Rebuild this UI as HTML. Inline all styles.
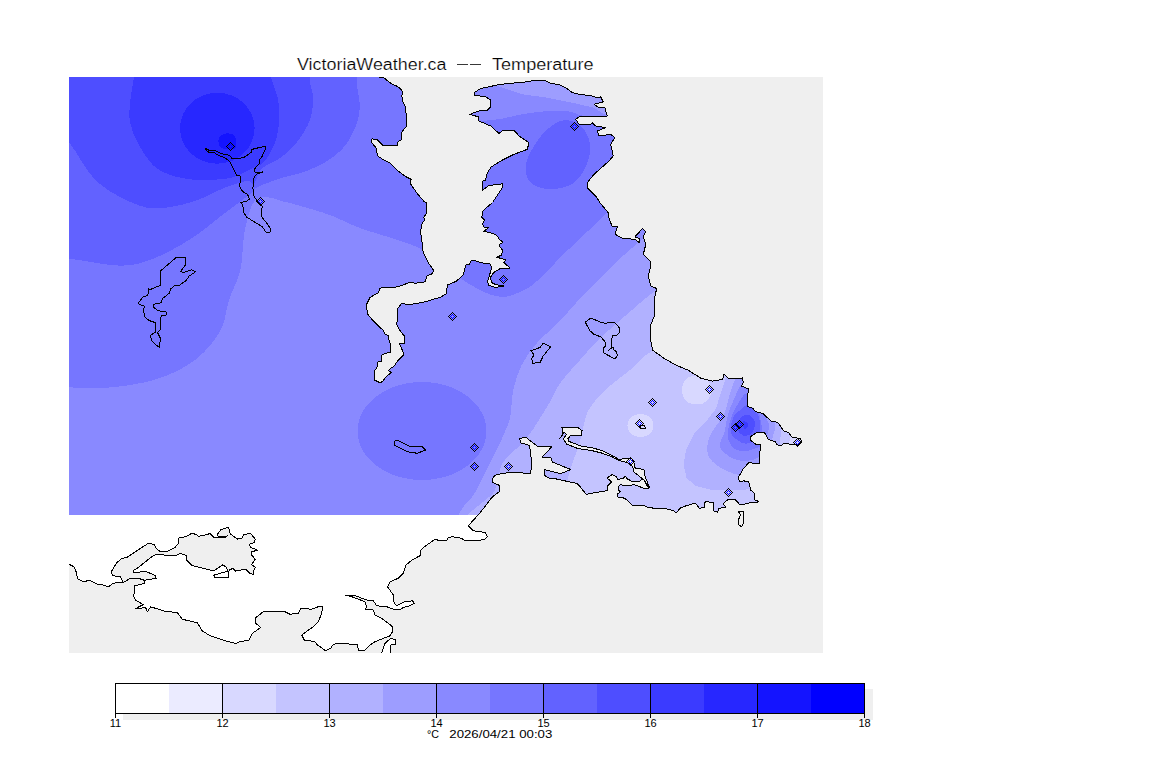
<!DOCTYPE html>
<html><head><meta charset="utf-8"><style>
html,body{margin:0;padding:0;background:#fff;}
body{width:1152px;height:768px;overflow:hidden;}
svg{display:block;}
text{font-family:"Liberation Sans",sans-serif;fill:#000;}
</style></head><body>
<svg width="1152" height="768" viewBox="0 0 1152 768" shape-rendering="crispEdges">
<defs>

<clipPath id="land"><path d="M69.0,77.0 L379.4,77.0 L383.1,77.0 L387.5,80.8 L392.5,84.5 L396.2,85.8 L399.4,87.6 L402.5,91.4 L401.9,95.8 L402.5,100.8 L405.0,105.8 L406.2,114.5 L406.9,125.8 L403.8,129.5 L401.2,133.2 L401.9,139.5 L398.1,141.4 L397.5,145.1 L382.5,145.1 L376.9,139.5 L371.9,138.9 L371.9,142.6 L376.2,148.2 L377.5,155.8 L383.1,159.5 L390.0,163.1 L397.5,170.6 L405.0,176.2 L411.2,179.4 L410.0,183.1 L417.5,193.8 L423.8,201.2 L426.2,202.5 L426.2,213.8 L423.8,217.5 L425.0,220.0 L422.5,222.5 L421.2,227.5 L420.6,232.5 L422.5,245.0 L422.5,250.0 L425.0,256.2 L428.1,262.5 L433.8,270.6 L431.9,273.8 L426.9,276.2 L425.0,281.9 L416.2,283.1 L408.8,282.8 L397.5,286.9 L379.4,288.1 L378.8,292.5 L370.0,297.5 L366.2,305.0 L367.5,313.8 L372.5,320.0 L377.5,325.0 L382.8,330.0 L385.3,334.2 L388.2,335.8 L388.2,338.3 L390.3,343.3 L390.3,352.1 L382.0,354.6 L381.6,361.2 L377.4,362.1 L377.0,367.5 L374.5,370.8 L374.5,380.0 L379.5,382.5 L382.8,381.7 L385.3,377.5 L391.2,372.5 L388.7,370.8 L389.5,369.2 L394.5,365.8 L397.0,361.7 L404.1,354.2 L399.5,343.8 L404.5,343.3 L404.5,336.2 L399.5,330.0 L396.9,325.0 L397.5,308.8 L401.2,303.8 L411.2,304.4 L425.0,301.9 L441.2,296.9 L446.2,293.8 L447.5,285.0 L456.0,281.4 L458.5,279.3 L463.0,275.2 L464.3,271.0 L465.6,265.2 L469.3,264.3 L471.0,261.0 L474.3,260.6 L482.7,263.0 L489.8,263.5 L491.8,267.7 L487.7,281.0 L488.5,285.2 L494.3,287.2 L503.0,286.8 L503.5,285.6 L496.0,284.8 L491.8,282.7 L490.2,277.7 L493.5,272.7 L501.0,268.0 L510.2,268.0 L503.9,262.7 L505.6,259.8 L496.8,257.2 L501.4,255.2 L502.7,250.2 L499.8,246.8 L499.8,244.3 L503.1,242.2 L499.3,239.3 L497.2,236.0 L493.8,233.8 L483.8,231.2 L488.8,227.5 L484.4,227.5 L482.5,223.8 L484.4,220.0 L481.9,217.5 L482.5,211.2 L492.5,202.5 L502.5,187.5 L502.5,183.8 L488.8,185.6 L482.5,190.0 L482.5,181.2 L485.6,180.0 L487.5,172.5 L491.2,166.9 L502.5,160.0 L514.0,154.3 L527.3,149.3 L529.0,142.7 L519.0,136.0 L514.0,130.2 L502.3,131.0 L499.0,133.5 L490.7,126.0 L479.0,121.0 L478.2,116.8 L469.8,114.3 L479.0,111.0 L487.3,110.2 L490.7,106.8 L490.7,100.2 L485.7,96.8 L474.0,95.2 L474.0,92.7 L480.7,88.5 L500.7,84.3 L527.3,81.8 L534.0,80.2 L545.7,80.7 L549.0,82.7 L560.7,85.2 L565.7,87.7 L572.3,92.7 L579.0,94.3 L592.3,96.0 L597.3,97.7 L600.7,96.8 L603.2,101.8 L594.0,104.3 L599.0,107.7 L604.8,107.7 L607.3,116.0 L587.3,116.0 L580.7,116.0 L575.7,119.3 L579.0,124.3 L590.7,124.3 L592.3,122.7 L595.7,126.0 L605.7,127.7 L597.3,131.0 L599.0,136.0 L610.7,134.3 L614.8,137.7 L610.7,144.3 L613.2,156.0 L609.0,161.0 L594.0,174.3 L587.3,182.7 L587.3,187.7 L595.7,196.0 L600.0,202.7 L608.3,212.7 L609.2,219.3 L612.5,226.8 L617.5,226.8 L615.0,234.3 L623.3,238.5 L635.0,239.3 L639.2,242.7 L639.2,238.5 L635.0,236.8 L642.5,228.5 L645.8,231.8 L643.3,236.8 L645.8,244.3 L643.3,254.3 L650.0,261.0 L650.0,269.3 L648.3,276.0 L650.8,286.0 L656.7,288.5 L655.0,296.0 L654.2,304.3 L655.0,312.7 L654.3,316.0 L651.0,324.3 L650.2,337.7 L652.7,350.2 L664.3,358.5 L676.0,365.2 L687.8,370.0 L701.1,378.3 L712.2,381.1 L722.8,379.4 L723.9,373.9 L728.3,378.3 L741.7,378.9 L742.2,377.8 L743.3,382.2 L741.7,386.1 L748.3,388.9 L747.2,403.3 L747.8,406.7 L752.7,408.1 L754.1,410.2 L757.5,412.5 L762.6,413.2 L771.0,421.0 L775.8,421.7 L778.5,423.4 L783.9,431.1 L788.6,432.5 L792.0,437.2 L800.8,438.6 L801.5,442.0 L797.4,446.0 L795.4,444.0 L788.6,444.0 L783.9,443.3 L780.5,446.0 L777.1,444.7 L775.1,441.6 L768.3,439.6 L765.6,434.5 L764.2,432.5 L756.8,432.5 L750.7,436.6 L750.0,440.0 L755.4,444.0 L760.2,444.7 L760.9,446.7 L759.8,452.0 L759.2,463.4 L748.7,462.8 L743.1,469.0 L738.3,477.4 L739.4,482.0 L743.0,480.9 L748.6,481.3 L749.3,484.5 L750.7,490.1 L754.2,492.9 L754.9,500.0 L758.5,501.4 L757.0,502.8 L750.7,502.8 L745.1,503.5 L744.4,504.9 L739.4,504.2 L735.2,499.6 L728.9,499.2 L725.4,501.4 L723.2,504.2 L726.1,507.0 L719.0,508.4 L717.6,512.3 L714.1,511.2 L713.0,507.0 L713.4,502.8 L706.3,501.4 L704.2,503.5 L704.9,507.0 L700.0,508.4 L698.9,508.0 L696.7,504.3 L693.9,503.2 L691.1,504.3 L685.6,506.0 L680.0,508.2 L677.8,511.3 L676.1,512.7 L673.3,510.4 L667.8,509.3 L665.6,508.2 L656.7,508.2 L653.9,509.0 L651.7,507.4 L647.2,507.1 L643.9,505.4 L640.0,505.2 L632.9,505.6 L625.4,498.8 L622.2,497.5 L617.2,496.9 L617.9,493.8 L620.4,491.9 L618.5,490.0 L619.1,485.6 L621.0,483.8 L622.9,485.6 L630.4,485.6 L633.5,484.4 L643.5,488.1 L649.1,488.1 L647.2,486.2 L643.5,478.1 L639.1,481.9 L632.9,481.9 L627.2,478.8 L625.4,476.2 L623.5,478.1 L617.9,479.4 L616.6,476.9 L612.2,474.4 L607.2,478.1 L611.6,481.9 L607.9,485.6 L607.2,490.6 L603.5,491.2 L596.0,492.5 L593.5,492.9 L586.2,494.5 L581.0,487.7 L576.8,483.5 L556.0,478.9 L550.7,478.7 L544.0,475.3 L544.0,469.5 L550.7,471.2 L560.7,473.7 L570.7,469.5 L552.3,462.0 L550.7,457.0 L542.3,457.0 L551.5,447.0 L537.3,446.2 L530.7,441.2 L525.7,437.0 L519.8,438.7 L520.7,442.8 L529.0,445.3 L530.7,452.0 L531.5,465.3 L530.7,473.7 L512.3,472.0 L496.5,474.5 L493.2,477.0 L492.3,482.0 L499.0,485.3 L499.0,492.0 L492.3,497.0 L480.7,512.0 L468.3,525.8 L473.3,530.8 L485.0,532.5 L487.5,536.7 L485.0,539.2 L476.7,540.8 L465.0,540.8 L461.7,538.3 L451.7,536.7 L447.5,538.3 L446.7,540.8 L440.0,540.8 L435.0,539.2 L431.7,541.7 L426.7,545.0 L420.8,550.0 L420.0,555.8 L413.3,559.2 L405.8,565.0 L403.3,573.3 L398.3,578.3 L390.0,581.7 L387.5,586.7 L393.3,595.0 L394.2,603.3 L396.7,605.8 L405.0,601.7 L412.5,600.8 L414.2,603.3 L410.0,605.8 L403.3,607.5 L400.0,610.0 L393.3,609.2 L386.7,606.7 L376.7,605.8 L373.3,600.8 L366.7,600.0 L353.3,595.0 L345.0,595.0 L351.7,596.7 L365.0,601.7 L366.7,606.7 L365.0,609.2 L373.3,610.0 L375.0,615.0 L381.7,618.3 L388.3,623.3 L392.5,626.7 L392.5,631.7 L390.0,635.8 L375.0,641.7 L370.0,645.0 L364.2,650.8 L358.3,650.0 L357.5,645.0 L343.3,643.3 L333.3,644.2 L330.8,648.3 L325.8,650.8 L317.5,645.0 L315.0,641.7 L304.2,640.0 L301.7,635.0 L313.3,626.7 L318.3,621.7 L321.7,613.3 L322.5,606.7 L318.3,606.7 L311.7,609.2 L300.8,608.3 L298.3,613.3 L290.0,614.2 L285.0,611.7 L263.3,611.7 L255.0,618.3 L255.8,623.3 L260.8,627.5 L252.5,633.3 L249.2,640.0 L240.0,641.7 L235.7,643.5 L225.7,641.0 L210.7,636.0 L202.3,631.0 L197.3,622.7 L182.3,619.3 L177.3,612.7 L164.0,611.0 L150.7,606.8 L147.3,611.8 L145.7,607.7 L135.7,608.5 L143.1,604.7 L135.6,600.0 L133.7,596.2 L134.7,589.7 L134.7,585.9 L145.0,583.1 L144.0,580.3 L143.1,579.4 L137.5,578.4 L130.9,578.0 L123.4,582.6 L113.1,583.1 L108.4,586.9 L100.0,584.0 L97.3,584.3 L89.0,580.2 L84.0,581.8 L77.3,578.5 L76.5,572.7 L74.0,566.8 L69.0,564.3 L69.0,564.3 Z"/></clipPath>
<clipPath id="drect"><rect x="69" y="77" width="754" height="438"/></clipPath>
<clipPath id="prect"><rect x="69" y="77" width="754" height="576"/></clipPath>
</defs>

<rect x="69" y="77" width="754" height="576" fill="#efefef"/>
<g clip-path="url(#prect)">
<path d="M69.0,77.0 L379.4,77.0 L383.1,77.0 L387.5,80.8 L392.5,84.5 L396.2,85.8 L399.4,87.6 L402.5,91.4 L401.9,95.8 L402.5,100.8 L405.0,105.8 L406.2,114.5 L406.9,125.8 L403.8,129.5 L401.2,133.2 L401.9,139.5 L398.1,141.4 L397.5,145.1 L382.5,145.1 L376.9,139.5 L371.9,138.9 L371.9,142.6 L376.2,148.2 L377.5,155.8 L383.1,159.5 L390.0,163.1 L397.5,170.6 L405.0,176.2 L411.2,179.4 L410.0,183.1 L417.5,193.8 L423.8,201.2 L426.2,202.5 L426.2,213.8 L423.8,217.5 L425.0,220.0 L422.5,222.5 L421.2,227.5 L420.6,232.5 L422.5,245.0 L422.5,250.0 L425.0,256.2 L428.1,262.5 L433.8,270.6 L431.9,273.8 L426.9,276.2 L425.0,281.9 L416.2,283.1 L408.8,282.8 L397.5,286.9 L379.4,288.1 L378.8,292.5 L370.0,297.5 L366.2,305.0 L367.5,313.8 L372.5,320.0 L377.5,325.0 L382.8,330.0 L385.3,334.2 L388.2,335.8 L388.2,338.3 L390.3,343.3 L390.3,352.1 L382.0,354.6 L381.6,361.2 L377.4,362.1 L377.0,367.5 L374.5,370.8 L374.5,380.0 L379.5,382.5 L382.8,381.7 L385.3,377.5 L391.2,372.5 L388.7,370.8 L389.5,369.2 L394.5,365.8 L397.0,361.7 L404.1,354.2 L399.5,343.8 L404.5,343.3 L404.5,336.2 L399.5,330.0 L396.9,325.0 L397.5,308.8 L401.2,303.8 L411.2,304.4 L425.0,301.9 L441.2,296.9 L446.2,293.8 L447.5,285.0 L456.0,281.4 L458.5,279.3 L463.0,275.2 L464.3,271.0 L465.6,265.2 L469.3,264.3 L471.0,261.0 L474.3,260.6 L482.7,263.0 L489.8,263.5 L491.8,267.7 L487.7,281.0 L488.5,285.2 L494.3,287.2 L503.0,286.8 L503.5,285.6 L496.0,284.8 L491.8,282.7 L490.2,277.7 L493.5,272.7 L501.0,268.0 L510.2,268.0 L503.9,262.7 L505.6,259.8 L496.8,257.2 L501.4,255.2 L502.7,250.2 L499.8,246.8 L499.8,244.3 L503.1,242.2 L499.3,239.3 L497.2,236.0 L493.8,233.8 L483.8,231.2 L488.8,227.5 L484.4,227.5 L482.5,223.8 L484.4,220.0 L481.9,217.5 L482.5,211.2 L492.5,202.5 L502.5,187.5 L502.5,183.8 L488.8,185.6 L482.5,190.0 L482.5,181.2 L485.6,180.0 L487.5,172.5 L491.2,166.9 L502.5,160.0 L514.0,154.3 L527.3,149.3 L529.0,142.7 L519.0,136.0 L514.0,130.2 L502.3,131.0 L499.0,133.5 L490.7,126.0 L479.0,121.0 L478.2,116.8 L469.8,114.3 L479.0,111.0 L487.3,110.2 L490.7,106.8 L490.7,100.2 L485.7,96.8 L474.0,95.2 L474.0,92.7 L480.7,88.5 L500.7,84.3 L527.3,81.8 L534.0,80.2 L545.7,80.7 L549.0,82.7 L560.7,85.2 L565.7,87.7 L572.3,92.7 L579.0,94.3 L592.3,96.0 L597.3,97.7 L600.7,96.8 L603.2,101.8 L594.0,104.3 L599.0,107.7 L604.8,107.7 L607.3,116.0 L587.3,116.0 L580.7,116.0 L575.7,119.3 L579.0,124.3 L590.7,124.3 L592.3,122.7 L595.7,126.0 L605.7,127.7 L597.3,131.0 L599.0,136.0 L610.7,134.3 L614.8,137.7 L610.7,144.3 L613.2,156.0 L609.0,161.0 L594.0,174.3 L587.3,182.7 L587.3,187.7 L595.7,196.0 L600.0,202.7 L608.3,212.7 L609.2,219.3 L612.5,226.8 L617.5,226.8 L615.0,234.3 L623.3,238.5 L635.0,239.3 L639.2,242.7 L639.2,238.5 L635.0,236.8 L642.5,228.5 L645.8,231.8 L643.3,236.8 L645.8,244.3 L643.3,254.3 L650.0,261.0 L650.0,269.3 L648.3,276.0 L650.8,286.0 L656.7,288.5 L655.0,296.0 L654.2,304.3 L655.0,312.7 L654.3,316.0 L651.0,324.3 L650.2,337.7 L652.7,350.2 L664.3,358.5 L676.0,365.2 L687.8,370.0 L701.1,378.3 L712.2,381.1 L722.8,379.4 L723.9,373.9 L728.3,378.3 L741.7,378.9 L742.2,377.8 L743.3,382.2 L741.7,386.1 L748.3,388.9 L747.2,403.3 L747.8,406.7 L752.7,408.1 L754.1,410.2 L757.5,412.5 L762.6,413.2 L771.0,421.0 L775.8,421.7 L778.5,423.4 L783.9,431.1 L788.6,432.5 L792.0,437.2 L800.8,438.6 L801.5,442.0 L797.4,446.0 L795.4,444.0 L788.6,444.0 L783.9,443.3 L780.5,446.0 L777.1,444.7 L775.1,441.6 L768.3,439.6 L765.6,434.5 L764.2,432.5 L756.8,432.5 L750.7,436.6 L750.0,440.0 L755.4,444.0 L760.2,444.7 L760.9,446.7 L759.8,452.0 L759.2,463.4 L748.7,462.8 L743.1,469.0 L738.3,477.4 L739.4,482.0 L743.0,480.9 L748.6,481.3 L749.3,484.5 L750.7,490.1 L754.2,492.9 L754.9,500.0 L758.5,501.4 L757.0,502.8 L750.7,502.8 L745.1,503.5 L744.4,504.9 L739.4,504.2 L735.2,499.6 L728.9,499.2 L725.4,501.4 L723.2,504.2 L726.1,507.0 L719.0,508.4 L717.6,512.3 L714.1,511.2 L713.0,507.0 L713.4,502.8 L706.3,501.4 L704.2,503.5 L704.9,507.0 L700.0,508.4 L698.9,508.0 L696.7,504.3 L693.9,503.2 L691.1,504.3 L685.6,506.0 L680.0,508.2 L677.8,511.3 L676.1,512.7 L673.3,510.4 L667.8,509.3 L665.6,508.2 L656.7,508.2 L653.9,509.0 L651.7,507.4 L647.2,507.1 L643.9,505.4 L640.0,505.2 L632.9,505.6 L625.4,498.8 L622.2,497.5 L617.2,496.9 L617.9,493.8 L620.4,491.9 L618.5,490.0 L619.1,485.6 L621.0,483.8 L622.9,485.6 L630.4,485.6 L633.5,484.4 L643.5,488.1 L649.1,488.1 L647.2,486.2 L643.5,478.1 L639.1,481.9 L632.9,481.9 L627.2,478.8 L625.4,476.2 L623.5,478.1 L617.9,479.4 L616.6,476.9 L612.2,474.4 L607.2,478.1 L611.6,481.9 L607.9,485.6 L607.2,490.6 L603.5,491.2 L596.0,492.5 L593.5,492.9 L586.2,494.5 L581.0,487.7 L576.8,483.5 L556.0,478.9 L550.7,478.7 L544.0,475.3 L544.0,469.5 L550.7,471.2 L560.7,473.7 L570.7,469.5 L552.3,462.0 L550.7,457.0 L542.3,457.0 L551.5,447.0 L537.3,446.2 L530.7,441.2 L525.7,437.0 L519.8,438.7 L520.7,442.8 L529.0,445.3 L530.7,452.0 L531.5,465.3 L530.7,473.7 L512.3,472.0 L496.5,474.5 L493.2,477.0 L492.3,482.0 L499.0,485.3 L499.0,492.0 L492.3,497.0 L480.7,512.0 L468.3,525.8 L473.3,530.8 L485.0,532.5 L487.5,536.7 L485.0,539.2 L476.7,540.8 L465.0,540.8 L461.7,538.3 L451.7,536.7 L447.5,538.3 L446.7,540.8 L440.0,540.8 L435.0,539.2 L431.7,541.7 L426.7,545.0 L420.8,550.0 L420.0,555.8 L413.3,559.2 L405.8,565.0 L403.3,573.3 L398.3,578.3 L390.0,581.7 L387.5,586.7 L393.3,595.0 L394.2,603.3 L396.7,605.8 L405.0,601.7 L412.5,600.8 L414.2,603.3 L410.0,605.8 L403.3,607.5 L400.0,610.0 L393.3,609.2 L386.7,606.7 L376.7,605.8 L373.3,600.8 L366.7,600.0 L353.3,595.0 L345.0,595.0 L351.7,596.7 L365.0,601.7 L366.7,606.7 L365.0,609.2 L373.3,610.0 L375.0,615.0 L381.7,618.3 L388.3,623.3 L392.5,626.7 L392.5,631.7 L390.0,635.8 L375.0,641.7 L370.0,645.0 L364.2,650.8 L358.3,650.0 L357.5,645.0 L343.3,643.3 L333.3,644.2 L330.8,648.3 L325.8,650.8 L317.5,645.0 L315.0,641.7 L304.2,640.0 L301.7,635.0 L313.3,626.7 L318.3,621.7 L321.7,613.3 L322.5,606.7 L318.3,606.7 L311.7,609.2 L300.8,608.3 L298.3,613.3 L290.0,614.2 L285.0,611.7 L263.3,611.7 L255.0,618.3 L255.8,623.3 L260.8,627.5 L252.5,633.3 L249.2,640.0 L240.0,641.7 L235.7,643.5 L225.7,641.0 L210.7,636.0 L202.3,631.0 L197.3,622.7 L182.3,619.3 L177.3,612.7 L164.0,611.0 L150.7,606.8 L147.3,611.8 L145.7,607.7 L135.7,608.5 L143.1,604.7 L135.6,600.0 L133.7,596.2 L134.7,589.7 L134.7,585.9 L145.0,583.1 L144.0,580.3 L143.1,579.4 L137.5,578.4 L130.9,578.0 L123.4,582.6 L113.1,583.1 L108.4,586.9 L100.0,584.0 L97.3,584.3 L89.0,580.2 L84.0,581.8 L77.3,578.5 L76.5,572.7 L74.0,566.8 L69.0,564.3 L69.0,564.3 Z" fill="#ffffff"/>
<g clip-path="url(#land)"><g clip-path="url(#drect)">
<rect x="69" y="77" width="754" height="438" fill="#8989ff"/>
<path d="M460.0,77.0 L470.0,80.0 L497.3,86.0 L522.3,94.3 L547.3,97.7 L572.3,102.7 L594.0,107.7 L605.7,115.2 L630.0,110.0 L630.0,77.0 Z" fill="#9d9dff"/>
<path d="M700.0,200.0 C669.2,207.1 656.9,227.7 638.3,242.7 C619.7,257.7 601.3,277.0 588.3,290.0 C575.2,303.0 568.6,311.9 560.0,320.8 C551.4,329.7 543.1,335.9 536.7,343.3 C530.3,350.7 525.6,357.2 521.7,365.0 C517.8,372.8 515.2,381.2 513.3,390.0 C511.3,398.8 511.7,410.3 510.0,418.0 C508.3,425.7 504.9,431.3 503.0,436.0 C501.1,440.7 500.0,442.9 498.4,446.4 C496.8,449.9 495.3,452.6 493.2,456.8 C491.1,461.0 489.2,465.0 485.9,471.4 C482.6,477.8 477.8,488.3 473.3,495.4 C468.8,502.5 464.3,503.4 458.8,514.2 C453.2,525.0 379.3,552.4 440.0,560.0 C500.7,567.6 759.2,620.0 823.0,560.0 C886.8,500.0 843.5,260.0 823.0,200.0 C802.5,140.0 730.8,192.9 700.0,200.0 Z" fill="#9d9dff"/>
<path d="M700.0,260.0 C672.0,265.2 666.3,282.7 655.0,291.0 C643.7,299.3 641.2,302.1 632.0,310.0 C622.8,317.9 608.7,330.0 600.0,338.3 C591.3,346.6 586.7,352.5 580.0,360.0 C573.3,367.5 564.8,376.6 560.0,383.3 C555.2,390.0 555.4,392.5 551.0,400.0 C546.6,407.5 538.9,420.5 533.8,428.1 C528.6,435.7 523.8,441.2 520.0,445.4 C516.2,449.6 513.6,450.4 510.9,453.2 C508.2,456.0 505.3,459.5 503.6,462.0 C501.9,464.5 501.9,463.6 500.5,468.3 C499.1,473.0 498.4,478.1 495.0,490.0 C491.6,501.9 425.3,531.7 480.0,540.0 C534.7,548.3 765.8,586.7 823.0,540.0 C880.2,493.3 843.5,306.7 823.0,260.0 C802.5,213.3 728.0,254.8 700.0,260.0 Z" fill="#b1b1ff"/>
<path d="M690.0,330.0 C676.8,331.9 659.3,346.3 651.0,351.5 C642.7,356.7 643.5,357.9 640.0,361.0 C636.5,364.1 634.0,366.7 630.0,370.0 C626.0,373.3 620.5,377.3 616.0,381.0 C611.5,384.7 607.0,388.0 603.0,392.0 C599.0,396.0 594.8,401.0 592.0,405.0 C589.2,409.0 587.9,410.3 586.0,416.0 C584.1,421.7 582.8,431.2 580.6,439.0 C578.4,446.8 574.9,456.0 572.8,462.5 C570.7,469.0 569.2,471.9 568.1,478.1 C567.0,484.4 560.7,491.4 566.0,500.0 C571.3,508.6 577.7,525.0 600.0,530.0 C622.3,535.0 666.7,531.7 700.0,530.0 C733.3,528.3 783.3,550.0 800.0,520.0 C816.7,490.0 811.7,380.0 800.0,350.0 C788.3,320.0 748.3,343.3 730.0,340.0 C711.7,336.7 703.2,328.1 690.0,330.0 Z" fill="#c4c4ff"/>
<path d="M696.8,375.5 C700.3,375.5 704.5,376.6 707.0,379.0 C709.5,381.4 711.5,386.3 711.5,390.0 C711.5,393.7 709.5,398.6 707.0,401.0 C704.5,403.4 700.3,404.5 696.8,404.5 C693.3,404.5 688.5,403.4 686.0,401.0 C683.5,398.6 682.0,393.7 682.0,390.0 C682.0,386.3 683.5,381.4 686.0,379.0 C688.5,376.6 693.3,375.5 696.8,375.5 Z" fill="#d8d8ff"/>
<path d="M640.5,414.0 C643.7,414.0 647.8,415.1 650.0,417.0 C652.2,418.9 653.5,422.7 653.5,425.5 C653.5,428.3 652.2,432.1 650.0,434.0 C647.8,435.9 643.7,437.0 640.5,437.0 C637.3,437.0 633.2,435.9 631.0,434.0 C628.8,432.1 627.5,428.3 627.5,425.5 C627.5,422.7 628.8,418.9 631.0,417.0 C633.2,415.1 637.3,414.0 640.5,414.0 Z" fill="#d8d8ff"/>
<path d="M40.0,387.3 C44.8,445.2 59.5,387.1 69.0,387.3 C78.5,387.5 87.0,388.7 97.3,388.3 C107.6,387.9 119.6,386.9 130.7,385.0 C141.8,383.1 152.9,381.1 164.0,376.7 C175.1,372.2 187.9,366.1 197.3,358.3 C206.8,350.5 215.4,339.7 220.7,330.0 C226.0,320.3 225.7,310.0 229.0,300.0 C232.3,290.0 237.7,281.4 240.3,270.0 C242.9,258.6 242.4,242.8 244.6,231.6 C246.8,220.4 249.6,208.7 253.2,203.0 C256.8,197.3 261.0,197.4 266.0,197.2 C271.0,196.9 277.6,200.1 283.3,201.5 C289.0,202.9 292.1,203.5 300.0,205.8 C307.9,208.1 320.7,211.6 330.7,215.3 C340.7,219.0 345.0,222.4 360.0,228.0 C375.0,233.6 404.7,240.8 420.7,248.7 C436.7,256.6 447.3,269.0 456.0,275.2 C464.7,281.4 467.1,282.8 472.7,286.0 C478.2,289.2 484.3,292.5 489.3,294.3 C494.3,296.1 498.5,296.8 502.7,296.8 C506.9,296.8 509.6,296.1 514.3,294.3 C519.0,292.5 524.7,290.6 531.0,286.0 C537.3,281.4 547.2,271.5 552.0,266.8 C556.8,262.1 550.9,266.7 560.0,257.7 C569.1,248.7 595.9,224.0 606.7,212.7 C617.5,201.4 616.1,197.1 625.0,190.0 C633.9,182.9 657.5,181.7 660.0,170.0 C662.5,158.3 649.2,129.0 640.0,120.0 C630.8,111.0 614.3,116.7 605.0,116.0 C595.7,115.3 590.3,116.8 584.0,116.0 C577.7,115.2 573.4,111.8 567.3,111.0 C561.2,110.2 554.8,110.5 547.3,111.0 C539.8,111.5 530.6,112.9 522.3,114.3 C514.0,115.7 505.4,118.5 497.3,119.3 C489.2,120.1 481.9,122.5 474.0,119.3 C466.1,116.1 455.7,113.2 450.0,100.0 C444.3,86.8 508.3,50.0 440.0,40.0 C371.7,30.0 106.7,-17.9 40.0,40.0 C-26.7,97.9 35.2,329.4 40.0,387.3 Z" fill="#7676ff"/>
<ellipse cx="422" cy="431" rx="64.5" ry="49" fill="#7676ff"/>
<path d="M40.0,258.0 C44.8,294.4 56.7,257.5 69.0,258.7 C81.3,259.9 102.2,264.6 114.0,265.3 C125.8,266.1 130.9,265.5 140.0,263.2 C149.1,260.9 159.1,256.5 168.7,251.7 C178.2,246.9 188.2,240.7 197.3,234.5 C206.4,228.3 215.9,219.9 223.1,214.4 C230.3,208.9 235.5,205.1 240.3,201.5 C245.1,197.9 248.8,195.4 251.7,193.0 C254.6,190.6 252.8,189.6 257.5,187.2 C262.2,184.8 272.4,180.9 280.0,178.4 C287.6,175.9 295.6,175.1 303.4,172.2 C311.2,169.3 320.4,165.2 326.9,161.2 C333.4,157.3 338.3,153.2 342.5,148.8 C346.7,144.3 349.3,139.7 351.9,134.7 C354.5,129.7 356.8,124.2 358.1,119.0 C359.4,113.8 359.9,109.9 359.7,103.4 C359.4,96.9 357.1,90.6 356.6,80.0 C356.2,69.4 409.8,46.7 357.0,40.0 C304.2,33.3 92.8,3.7 40.0,40.0 C-12.8,76.3 35.2,221.6 40.0,258.0 Z" fill="#6262ff"/>
<path d="M564.0,120.2 C569.6,119.7 576.4,122.2 580.7,126.0 C585.0,129.8 588.7,136.6 589.8,142.7 C590.9,148.8 589.9,156.0 587.3,162.7 C584.7,169.4 580.1,178.3 574.0,182.7 C567.9,187.1 557.9,189.3 550.7,189.3 C543.5,189.3 534.9,186.6 530.7,182.7 C526.5,178.8 525.2,172.1 525.7,166.0 C526.2,159.9 530.4,152.1 534.0,146.0 C537.6,139.9 542.3,133.6 547.3,129.3 C552.3,125.0 558.4,120.8 564.0,120.2 Z" fill="#6262ff"/>
<path d="M40.0,110.0 C44.8,127.0 59.5,130.0 69.0,142.0 C78.5,154.0 85.5,171.4 97.3,182.0 C109.1,192.6 128.1,201.6 140.0,205.8 C151.9,210.0 159.1,208.2 168.7,207.3 C178.2,206.4 187.8,203.4 197.3,200.1 C206.9,196.8 217.7,190.4 226.0,187.2 C234.3,184.0 242.7,181.5 247.4,181.0 C252.1,180.5 251.6,186.1 254.0,184.0 C256.4,181.9 257.5,172.9 261.8,168.6 C266.1,164.3 274.9,161.7 280.0,158.1 C285.1,154.5 288.6,151.4 292.5,147.2 C296.4,143.0 300.3,138.3 303.4,133.1 C306.5,127.9 309.7,122.2 311.2,116.0 C312.8,109.8 313.1,101.6 312.8,95.6 C312.5,89.6 311.0,89.3 309.7,80.0 C308.4,70.7 349.9,46.7 305.0,40.0 C260.1,33.3 84.2,28.3 40.0,40.0 C-4.2,51.7 35.2,93.0 40.0,110.0 Z" fill="#4e4eff"/>
<path d="M134.0,77.0 C132.3,89.0 127.6,108.2 130.0,122.0 C132.4,135.8 142.2,151.3 148.6,160.0 C155.0,168.7 160.6,171.0 168.7,174.3 C176.8,177.6 187.8,179.3 197.3,180.0 C206.9,180.7 218.8,179.5 226.0,178.6 C233.2,177.7 235.5,176.3 240.3,174.4 C245.1,172.5 250.7,169.4 254.9,167.0 C259.1,164.6 262.1,165.2 265.8,160.0 C269.5,154.8 274.8,145.1 277.0,136.0 C279.2,126.9 280.1,115.1 279.0,105.3 C277.9,95.5 273.9,86.2 270.7,77.0 C267.5,67.8 281.8,54.5 260.0,50.0 C238.2,45.5 161.0,45.5 140.0,50.0 C119.0,54.5 135.7,65.0 134.0,77.0 Z" fill="#3b3bff"/>
<ellipse cx="217.3" cy="128.2" rx="37.3" ry="35.5" fill="#2727ff"/>
<path d="M226.0,133.5 C228.5,133.0 232.3,133.8 234.0,135.0 C235.7,136.2 235.8,138.8 236.0,141.0 C236.2,143.2 237.3,147.2 235.5,148.5 C233.7,149.8 227.7,149.4 225.0,149.0 C222.3,148.6 220.5,147.8 219.5,146.0 C218.5,144.2 217.9,140.1 219.0,138.0 C220.1,135.9 223.5,134.0 226.0,133.5 Z" fill="#1414ff"/>
<path d="M725.3,379.8 L720.6,393.9 L715.9,408.7 L707.3,420.0 L694.1,433.3 L686.2,449.7 L683.5,463.8 L686.5,478.0 L696.0,486.0 L710.0,489.5 L725.0,490.0 L740.0,490.0 L752.0,489.0 L770.0,495.0 L810.0,470.0 L810.0,420.0 L760.0,370.0 L728.0,368.0 Z" fill="#b1b1ff"/>
<path d="M734.7,380.6 C733.0,384.1 731.3,388.9 730.0,393.1 C728.7,397.3 727.9,402.0 726.9,405.6 C725.9,409.2 724.8,412.6 723.8,415.0 C722.7,417.4 722.7,416.9 720.6,420.0 C718.5,423.1 713.5,429.0 711.2,433.3 C709.0,437.6 707.7,441.9 707.3,445.8 C706.9,449.7 707.3,453.4 708.9,456.7 C710.5,459.9 713.5,462.8 716.7,465.3 C720.0,467.8 724.4,470.0 728.4,471.6 C732.4,473.2 734.9,475.0 741.0,474.7 C747.1,474.4 758.5,473.8 765.0,470.0 C771.5,466.2 778.8,456.0 780.0,452.0 C781.2,448.0 773.2,448.7 772.0,446.0 C770.8,443.3 772.5,439.5 773.0,436.0 C773.5,432.5 775.5,430.2 775.0,425.0 C774.5,419.8 775.8,413.8 770.0,405.0 C764.2,396.2 745.9,376.1 740.0,372.0 C734.1,367.9 736.4,377.1 734.7,380.6 Z" fill="#9d9dff"/>
<path d="M740.9,385.3 C738.4,387.9 736.5,393.9 734.7,397.8 C732.9,401.7 731.3,405.2 730.0,408.7 C728.7,412.2 727.8,415.0 726.9,418.9 C726.0,422.8 725.7,427.6 724.5,432.0 C723.3,436.4 719.7,441.4 719.8,445.0 C719.9,448.6 722.6,451.1 725.3,453.6 C728.0,456.1 732.3,458.6 736.2,459.8 C740.2,461.0 745.1,461.0 748.8,460.6 C752.4,460.2 754.6,459.3 758.1,457.5 C761.6,455.7 768.7,451.9 770.0,450.0 C771.3,448.1 766.5,448.3 766.0,446.0 C765.5,443.7 766.5,439.5 767.0,436.0 C767.5,432.5 769.8,429.3 769.0,425.0 C768.2,420.7 765.2,417.2 762.0,410.0 C758.8,402.8 753.5,386.1 750.0,382.0 C746.5,377.9 743.4,382.7 740.9,385.3 Z" fill="#8989ff"/>
<path d="M745.6,393.9 C743.0,394.2 741.2,399.1 739.4,401.7 C737.6,404.3 736.1,406.6 734.7,409.5 C733.3,412.4 732.0,415.1 730.8,418.9 C729.6,422.6 728.0,428.2 727.7,432.0 C727.4,435.8 728.0,439.1 729.2,441.9 C730.4,444.7 732.1,447.3 734.7,448.9 C737.3,450.5 741.5,451.2 744.8,451.2 C748.0,451.2 751.7,449.8 754.2,448.9 C756.7,448.0 758.9,448.1 760.0,446.0 C761.1,443.9 760.8,439.5 761.0,436.0 C761.2,432.5 762.5,431.0 761.5,425.0 C760.5,419.0 757.6,405.2 755.0,400.0 C752.4,394.8 748.2,393.6 745.6,393.9 Z" fill="#7676ff"/>
<path d="M747.2,405.6 C744.4,404.7 743.0,407.9 740.9,409.5 C738.8,411.1 736.2,412.8 734.7,415.0 C733.2,417.2 732.2,420.0 731.6,422.8 C731.0,425.6 730.3,429.5 730.8,432.0 C731.3,434.5 732.9,436.2 734.7,438.0 C736.5,439.8 739.5,441.8 741.7,442.7 C743.9,443.6 745.6,443.8 748.0,443.4 C750.4,442.9 754.0,442.2 756.0,440.0 C758.0,437.8 759.7,434.2 760.0,430.0 C760.3,425.8 760.1,419.1 758.0,415.0 C755.9,410.9 750.1,406.5 747.2,405.6 Z" fill="#6262ff"/>
<path d="M746.0,414.5 C748.2,414.3 751.5,416.2 753.0,418.0 C754.5,419.8 755.2,422.5 755.0,425.0 C754.8,427.5 753.7,431.2 752.0,433.0 C750.3,434.8 747.2,436.2 745.0,436.0 C742.8,435.8 740.2,433.7 739.0,432.0 C737.8,430.3 737.3,428.2 737.5,426.0 C737.7,423.8 738.6,420.9 740.0,419.0 C741.4,417.1 743.8,414.7 746.0,414.5 Z" fill="#4e4eff"/>
<path d="M744.0,420.5 L747.5,423.0 L747.7,427.0 L745.0,429.5 L743.0,426.0 L743.0,422.0 Z" fill="#3b3bff"/>
<path d="M783.0,418.0 L781.9,425.7 L779.8,443.3 L779.0,450.0 L810.0,450.0 L810.0,418.0 Z" fill="#c4c4ff"/>
<path d="M792.0,425.0 L790.0,436.0 L788.5,450.0 L810.0,450.0 L810.0,425.0 Z" fill="#d8d8ff"/>
</g></g>
<path d="M111.2,571.9 L116.9,562.5 L121.6,558.7 L127.2,557.3 L137.5,550.3 L147.8,543.7 L154.4,544.2 L156.2,548.4 L160.0,551.4 L166.4,551.9 L174.6,547.8 L178.2,543.7 L178.2,538.2 L186.4,536.4 L191.9,533.2 L196.5,534.6 L198.3,536.4 L207.4,534.6 L209.7,533.2 L213.8,537.3 L225.6,537.8 L227.0,536.0 L218.3,536.4 L217.0,535.0 L220.6,530.0 L227.5,527.3 L228.8,528.2 L230.2,533.7 L237.5,539.1 L242.0,538.2 L243.9,534.6 L250.2,533.2 L255.3,539.1 L254.3,542.3 L249.8,544.2 L250.2,547.3 L257.5,550.1 L251.6,551.9 L251.6,555.1 L255.3,559.2 L251.6,564.7 L255.3,567.4 L253.4,571.5 L253.9,574.2 L250.2,573.8 L245.7,569.2 L235.7,571.0 L232.9,568.3 L229.3,570.1 L228.4,572.0 L226.5,567.4 L222.9,564.7 L213.8,571.0 L200.1,567.4 L191.9,565.6 L186.4,560.1 L186.4,555.6 L180.0,553.3 L176.4,555.6 L169.1,556.0 L160.0,554.2 L157.2,554.1 L151.5,556.9 L142.2,564.4 L137.5,568.1 L133.7,570.0 L133.3,572.8 L145.9,571.4 L155.3,575.6 L156.2,578.4 L144.0,580.3 L137.5,578.4 L130.9,578.0 L123.4,582.6 L120.6,577.0 L112.7,575.6 Z" fill="#efefef" stroke="#000" stroke-width="1" shape-rendering="crispEdges"/>
<path d="M379.4,77.0 L383.1,77.0 L387.5,80.8 L392.5,84.5 L396.2,85.8 L399.4,87.6 L402.5,91.4 L401.9,95.8 L402.5,100.8 L405.0,105.8 L406.2,114.5 L406.9,125.8 L403.8,129.5 L401.2,133.2 L401.9,139.5 L398.1,141.4 L397.5,145.1 L382.5,145.1 L376.9,139.5 L371.9,138.9 L371.9,142.6 L376.2,148.2 L377.5,155.8 L383.1,159.5 L390.0,163.1 L397.5,170.6 L405.0,176.2 L411.2,179.4 L410.0,183.1 L417.5,193.8 L423.8,201.2 L426.2,202.5 L426.2,213.8 L423.8,217.5 L425.0,220.0 L422.5,222.5 L421.2,227.5 L420.6,232.5 L422.5,245.0 L422.5,250.0 L425.0,256.2 L428.1,262.5 L433.8,270.6 L431.9,273.8 L426.9,276.2 L425.0,281.9 L416.2,283.1 L408.8,282.8 L397.5,286.9 L379.4,288.1 L378.8,292.5 L370.0,297.5 L366.2,305.0 L367.5,313.8 L372.5,320.0 L377.5,325.0 L382.8,330.0 L385.3,334.2 L388.2,335.8 L388.2,338.3 L390.3,343.3 L390.3,352.1 L382.0,354.6 L381.6,361.2 L377.4,362.1 L377.0,367.5 L374.5,370.8 L374.5,380.0 L379.5,382.5 L382.8,381.7 L385.3,377.5 L391.2,372.5 L388.7,370.8 L389.5,369.2 L394.5,365.8 L397.0,361.7 L404.1,354.2 L399.5,343.8 L404.5,343.3 L404.5,336.2 L399.5,330.0 L396.9,325.0 L397.5,308.8 L401.2,303.8 L411.2,304.4 L425.0,301.9 L441.2,296.9 L446.2,293.8 L447.5,285.0 L456.0,281.4 L458.5,279.3 L463.0,275.2 L464.3,271.0 L465.6,265.2 L469.3,264.3 L471.0,261.0 L474.3,260.6 L482.7,263.0 L489.8,263.5 L491.8,267.7 L487.7,281.0 L488.5,285.2 L494.3,287.2 L503.0,286.8 L503.5,285.6 L496.0,284.8 L491.8,282.7 L490.2,277.7 L493.5,272.7 L501.0,268.0 L510.2,268.0 L503.9,262.7 L505.6,259.8 L496.8,257.2 L501.4,255.2 L502.7,250.2 L499.8,246.8 L499.8,244.3 L503.1,242.2 L499.3,239.3 L497.2,236.0 L493.8,233.8 L483.8,231.2 L488.8,227.5 L484.4,227.5 L482.5,223.8 L484.4,220.0 L481.9,217.5 L482.5,211.2 L492.5,202.5 L502.5,187.5 L502.5,183.8 L488.8,185.6 L482.5,190.0 L482.5,181.2 L485.6,180.0 L487.5,172.5 L491.2,166.9 L502.5,160.0 L514.0,154.3 L527.3,149.3 L529.0,142.7 L519.0,136.0 L514.0,130.2 L502.3,131.0 L499.0,133.5 L490.7,126.0 L479.0,121.0 L478.2,116.8 L469.8,114.3 L479.0,111.0 L487.3,110.2 L490.7,106.8 L490.7,100.2 L485.7,96.8 L474.0,95.2 L474.0,92.7 L480.7,88.5 L500.7,84.3 L527.3,81.8 L534.0,80.2 L545.7,80.7 L549.0,82.7 L560.7,85.2 L565.7,87.7 L572.3,92.7 L579.0,94.3 L592.3,96.0 L597.3,97.7 L600.7,96.8 L603.2,101.8 L594.0,104.3 L599.0,107.7 L604.8,107.7 L607.3,116.0 L587.3,116.0 L580.7,116.0 L575.7,119.3 L579.0,124.3 L590.7,124.3 L592.3,122.7 L595.7,126.0 L605.7,127.7 L597.3,131.0 L599.0,136.0 L610.7,134.3 L614.8,137.7 L610.7,144.3 L613.2,156.0 L609.0,161.0 L594.0,174.3 L587.3,182.7 L587.3,187.7 L595.7,196.0 L600.0,202.7 L608.3,212.7 L609.2,219.3 L612.5,226.8 L617.5,226.8 L615.0,234.3 L623.3,238.5 L635.0,239.3 L639.2,242.7 L639.2,238.5 L635.0,236.8 L642.5,228.5 L645.8,231.8 L643.3,236.8 L645.8,244.3 L643.3,254.3 L650.0,261.0 L650.0,269.3 L648.3,276.0 L650.8,286.0 L656.7,288.5 L655.0,296.0 L654.2,304.3 L655.0,312.7 L654.3,316.0 L651.0,324.3 L650.2,337.7 L652.7,350.2 L664.3,358.5 L676.0,365.2 L687.8,370.0 L701.1,378.3 L712.2,381.1 L722.8,379.4 L723.9,373.9 L728.3,378.3 L741.7,378.9 L742.2,377.8 L743.3,382.2 L741.7,386.1 L748.3,388.9 L747.2,403.3 L747.8,406.7 L752.7,408.1 L754.1,410.2 L757.5,412.5 L762.6,413.2 L771.0,421.0 L775.8,421.7 L778.5,423.4 L783.9,431.1 L788.6,432.5 L792.0,437.2 L800.8,438.6 L801.5,442.0 L797.4,446.0 L795.4,444.0 L788.6,444.0 L783.9,443.3 L780.5,446.0 L777.1,444.7 L775.1,441.6 L768.3,439.6 L765.6,434.5 L764.2,432.5 L756.8,432.5 L750.7,436.6 L750.0,440.0 L755.4,444.0 L760.2,444.7 L760.9,446.7 L759.8,452.0 L759.2,463.4 L748.7,462.8 L743.1,469.0 L738.3,477.4 L739.4,482.0 L743.0,480.9 L748.6,481.3 L749.3,484.5 L750.7,490.1 L754.2,492.9 L754.9,500.0 L758.5,501.4 L757.0,502.8 L750.7,502.8 L745.1,503.5 L744.4,504.9 L739.4,504.2 L735.2,499.6 L728.9,499.2 L725.4,501.4 L723.2,504.2 L726.1,507.0 L719.0,508.4 L717.6,512.3 L714.1,511.2 L713.0,507.0 L713.4,502.8 L706.3,501.4 L704.2,503.5 L704.9,507.0 L700.0,508.4 L698.9,508.0 L696.7,504.3 L693.9,503.2 L691.1,504.3 L685.6,506.0 L680.0,508.2 L677.8,511.3 L676.1,512.7 L673.3,510.4 L667.8,509.3 L665.6,508.2 L656.7,508.2 L653.9,509.0 L651.7,507.4 L647.2,507.1 L643.9,505.4 L640.0,505.2 L632.9,505.6 L625.4,498.8 L622.2,497.5 L617.2,496.9 L617.9,493.8 L620.4,491.9 L618.5,490.0 L619.1,485.6 L621.0,483.8 L622.9,485.6 L630.4,485.6 L633.5,484.4 L643.5,488.1 L649.1,488.1 L647.2,486.2 L643.5,478.1 L639.1,481.9 L632.9,481.9 L627.2,478.8 L625.4,476.2 L623.5,478.1 L617.9,479.4 L616.6,476.9 L612.2,474.4 L607.2,478.1 L611.6,481.9 L607.9,485.6 L607.2,490.6 L603.5,491.2 L596.0,492.5 L593.5,492.9 L586.2,494.5 L581.0,487.7 L576.8,483.5 L556.0,478.9 L550.7,478.7 L544.0,475.3 L544.0,469.5 L550.7,471.2 L560.7,473.7 L570.7,469.5 L552.3,462.0 L550.7,457.0 L542.3,457.0 L551.5,447.0 L537.3,446.2 L530.7,441.2 L525.7,437.0 L519.8,438.7 L520.7,442.8 L529.0,445.3 L530.7,452.0 L531.5,465.3 L530.7,473.7 L512.3,472.0 L496.5,474.5 L493.2,477.0 L492.3,482.0 L499.0,485.3 L499.0,492.0 L492.3,497.0 L480.7,512.0 L468.3,525.8 L473.3,530.8 L485.0,532.5 L487.5,536.7 L485.0,539.2 L476.7,540.8 L465.0,540.8 L461.7,538.3 L451.7,536.7 L447.5,538.3 L446.7,540.8 L440.0,540.8 L435.0,539.2 L431.7,541.7 L426.7,545.0 L420.8,550.0 L420.0,555.8 L413.3,559.2 L405.8,565.0 L403.3,573.3 L398.3,578.3 L390.0,581.7 L387.5,586.7 L393.3,595.0 L394.2,603.3 L396.7,605.8 L405.0,601.7 L412.5,600.8 L414.2,603.3 L410.0,605.8 L403.3,607.5 L400.0,610.0 L393.3,609.2 L386.7,606.7 L376.7,605.8 L373.3,600.8 L366.7,600.0 L353.3,595.0 L345.0,595.0 L351.7,596.7 L365.0,601.7 L366.7,606.7 L365.0,609.2 L373.3,610.0 L375.0,615.0 L381.7,618.3 L388.3,623.3 L392.5,626.7 L392.5,631.7 L390.0,635.8 L375.0,641.7 L370.0,645.0 L364.2,650.8 L358.3,650.0 L357.5,645.0 L343.3,643.3 L333.3,644.2 L330.8,648.3 L325.8,650.8 L317.5,645.0 L315.0,641.7 L304.2,640.0 L301.7,635.0 L313.3,626.7 L318.3,621.7 L321.7,613.3 L322.5,606.7 L318.3,606.7 L311.7,609.2 L300.8,608.3 L298.3,613.3 L290.0,614.2 L285.0,611.7 L263.3,611.7 L255.0,618.3 L255.8,623.3 L260.8,627.5 L252.5,633.3 L249.2,640.0 L240.0,641.7 L235.7,643.5 L225.7,641.0 L210.7,636.0 L202.3,631.0 L197.3,622.7 L182.3,619.3 L177.3,612.7 L164.0,611.0 L150.7,606.8 L147.3,611.8 L145.7,607.7 L135.7,608.5 L143.1,604.7 L135.6,600.0 L133.7,596.2 L134.7,589.7 L134.7,585.9 L145.0,583.1 L144.0,580.3 L143.1,579.4 L137.5,578.4 L130.9,578.0 L123.4,582.6 L113.1,583.1 L108.4,586.9 L100.0,584.0 L97.3,584.3 L89.0,580.2 L84.0,581.8 L77.3,578.5 L76.5,572.7 L74.0,566.8 L69.0,564.3" fill="none" stroke="#000" stroke-width="1" stroke-linejoin="round" shape-rendering="crispEdges"/>
<path d="M381.7,653.0 L385.0,643.3 L390.8,638.3 L395.8,640.0 L395.8,644.2 L390.8,645.0 L390.0,653.0 Z" fill="#fff" stroke="#000" stroke-width="1" stroke-linejoin="round" shape-rendering="crispEdges"/>
<path d="M213.8,575.2 L226.5,571.5 L228.4,572.0 L228.4,577.4 L214.7,577.4 Z" fill="#fff" stroke="#000" stroke-width="1" stroke-linejoin="round" shape-rendering="crispEdges"/>
<path d="M205.3,148.4 L206.9,150.7 L209.2,152.4 L213.7,152.4 L217.2,154.5 L221.0,156.4 L224.8,157.6 L227.5,159.8 L230.5,162.5 L231.7,165.2 L235.3,172.6 L236.6,175.3 L240.0,176.0 L240.7,180.7 L239.3,186.1 L242.7,191.5 L247.4,194.2 L249.5,199.0 L246.1,201.7 L240.7,202.3 L242.7,205.0 L244.1,213.2 L246.8,217.2 L255.6,222.7 L262.3,226.7 L265.0,230.8 L266.4,232.8 L269.8,232.8 L270.5,228.7 L266.4,222.7 L261.0,215.9 L262.3,206.4 L258.3,202.3 L254.2,196.9 L252.9,188.8 L253.5,180.7 L254.2,176.6 L256.9,173.9 L263.0,171.9 L258.3,172.6 L254.9,171.9 L254.9,168.5 L259.6,163.1 L259.0,160.4 L262.3,156.3 L263.7,152.2 L265.7,148.9 L265.0,146.2 L259.6,147.5 L251.5,149.5 L251.5,152.2 L247.4,155.0 L244.0,157.4 L241.6,157.4 L240.8,158.5 L232.1,158.5 L230.5,156.4 L226.7,154.5 L222.9,154.1 L218.3,152.2 L214.9,150.3 L209.2,150.3 Z" fill="none" stroke="#000" stroke-width="1" stroke-linejoin="round" shape-rendering="crispEdges"/>
<path d="M175.7,257.9 L185.6,257.9 L185.6,264.9 L180.7,271.2 L182.8,272.6 L191.9,269.8 L195.4,271.9 L189.1,276.1 L186.3,280.4 L179.3,285.3 L175.0,285.3 L170.8,288.8 L169.4,293.0 L162.4,298.7 L161.0,302.9 L153.9,304.3 L153.2,307.1 L158.1,310.6 L165.9,312.0 L166.6,314.9 L161.7,315.6 L160.3,318.4 L160.3,329.6 L157.4,332.4 L160.3,338.1 L159.6,347.2 L156.0,345.1 L151.8,340.9 L150.4,335.3 L155.3,332.4 L155.3,322.6 L149.0,320.5 L144.8,317.0 L143.4,309.9 L144.8,306.4 L139.1,304.3 L138.4,302.9 L142.7,297.3 L147.6,295.2 L149.0,291.6 L148.3,288.8 L150.4,289.5 L160.3,285.3 L161.0,270.5 Z" fill="none" stroke="#000" stroke-width="1" stroke-linejoin="round" shape-rendering="crispEdges"/>
<path d="M394.0,441.7 L397.3,440.0 L410.7,446.7 L422.3,446.7 L425.7,450.0 L417.3,453.3 L407.3,451.7 L394.0,445.0 Z" fill="none" stroke="#000" stroke-width="1" stroke-linejoin="round" shape-rendering="crispEdges"/>
<path d="M530.8,350.8 L540.0,347.5 L543.3,343.3 L550.8,346.7 L543.3,355.8 L540.0,362.5 L532.5,363.3 L531.7,358.3 L534.2,355.0 Z" fill="none" stroke="#000" stroke-width="1" stroke-linejoin="round" shape-rendering="crispEdges"/>
<path d="M585.4,322.2 L590.8,318.1 L592.9,318.8 L600.3,322.2 L605.7,323.5 L608.4,322.2 L613.9,322.2 L616.6,324.2 L619.6,328.2 L619.6,332.3 L617.2,335.0 L612.5,335.7 L611.5,341.1 L611.5,347.9 L608.4,350.6 L611.5,347.9 L613.2,347.9 L613.9,349.9 L616.9,352.0 L617.2,356.0 L615.2,358.7 L613.2,358.0 L603.0,352.6 L603.0,348.6 L606.1,345.2 L605.7,342.5 L601.0,337.0 L593.5,334.0 L589.5,330.3 L586.4,324.2 Z" fill="none" stroke="#000" stroke-width="1" stroke-linejoin="round" shape-rendering="crispEdges"/>
<path d="M640.0,425.0 L644.5,425.0 L645.5,428.5 L641.5,429.0 L639.5,427.0 Z" fill="none" stroke="#000" stroke-width="1" stroke-linejoin="round" shape-rendering="crispEdges"/>
<path d="M738.0,511.2 L743.0,511.2 L743.7,512.6 L743.0,524.6 L741.5,526.7 L738.7,524.6 L738.4,519.7 L740.8,514.7 Z" fill="none" stroke="#000" stroke-width="1" stroke-linejoin="round" shape-rendering="crispEdges"/>
<path d="M561.5,427.6 L577.8,427.6 L582.1,430.8 L581.5,435.1 L570.9,435.1 L567.8,438.9 L569.0,441.4 L580.2,445.8 L594.0,448.2 L604.0,451.4 L614.0,456.4 L619.0,459.5 L626.5,458.2 L631.5,458.2 L634.0,463.2 L635.2,468.2 L644.0,469.5 L645.2,477.0 L649.6,487.6 L644.0,480.0 L634.0,472.0 L632.8,467.0 L629.0,463.2 L617.8,460.0 L611.5,456.5 L601.5,453.0 L591.5,450.5 L577.8,448.5 L566.5,444.0 L563.4,438.9 L566.5,434.5 L564.0,432.0 L559.6,438.9 L562.8,434.5 L562.1,428.2 Z" fill="#efefef" stroke="#000" stroke-width="1" shape-rendering="crispEdges"/>
<path d="M226,146h1v1h-1zM227,145h1v1h-1zM227,147h1v1h-1zM228,144h1v1h-1zM228,148h1v1h-1zM229,143h1v1h-1zM229,149h1v1h-1zM230,142h1v1h-1zM230,150h1v1h-1zM231,143h1v1h-1zM231,149h1v1h-1zM232,144h1v1h-1zM232,148h1v1h-1zM233,145h1v1h-1zM233,147h1v1h-1zM234,146h1v1h-1zM256,201h1v1h-1zM257,200h1v1h-1zM257,202h1v1h-1zM258,199h1v1h-1zM258,203h1v1h-1zM259,198h1v1h-1zM259,204h1v1h-1zM260,197h1v1h-1zM260,205h1v1h-1zM261,198h1v1h-1zM261,204h1v1h-1zM262,199h1v1h-1zM262,203h1v1h-1zM263,200h1v1h-1zM263,202h1v1h-1zM264,201h1v1h-1zM499,279h1v1h-1zM500,278h1v1h-1zM500,280h1v1h-1zM501,277h1v1h-1zM501,281h1v1h-1zM502,276h1v1h-1zM502,282h1v1h-1zM503,275h1v1h-1zM503,283h1v1h-1zM504,276h1v1h-1zM504,282h1v1h-1zM505,277h1v1h-1zM505,281h1v1h-1zM506,278h1v1h-1zM506,280h1v1h-1zM507,279h1v1h-1zM448,316h1v1h-1zM449,315h1v1h-1zM449,317h1v1h-1zM450,314h1v1h-1zM450,318h1v1h-1zM451,313h1v1h-1zM451,319h1v1h-1zM452,312h1v1h-1zM452,320h1v1h-1zM453,313h1v1h-1zM453,319h1v1h-1zM454,314h1v1h-1zM454,318h1v1h-1zM455,315h1v1h-1zM455,317h1v1h-1zM456,316h1v1h-1zM570,126h1v1h-1zM571,125h1v1h-1zM571,127h1v1h-1zM572,124h1v1h-1zM572,128h1v1h-1zM573,123h1v1h-1zM573,129h1v1h-1zM574,122h1v1h-1zM574,130h1v1h-1zM575,123h1v1h-1zM575,129h1v1h-1zM576,124h1v1h-1zM576,128h1v1h-1zM577,125h1v1h-1zM577,127h1v1h-1zM578,126h1v1h-1zM470,447h1v1h-1zM471,446h1v1h-1zM471,448h1v1h-1zM472,445h1v1h-1zM472,449h1v1h-1zM473,444h1v1h-1zM473,450h1v1h-1zM474,443h1v1h-1zM474,451h1v1h-1zM475,444h1v1h-1zM475,450h1v1h-1zM476,445h1v1h-1zM476,449h1v1h-1zM477,446h1v1h-1zM477,448h1v1h-1zM478,447h1v1h-1zM470,466h1v1h-1zM471,465h1v1h-1zM471,467h1v1h-1zM472,464h1v1h-1zM472,468h1v1h-1zM473,463h1v1h-1zM473,469h1v1h-1zM474,462h1v1h-1zM474,470h1v1h-1zM475,463h1v1h-1zM475,469h1v1h-1zM476,464h1v1h-1zM476,468h1v1h-1zM477,465h1v1h-1zM477,467h1v1h-1zM478,466h1v1h-1zM504,466h1v1h-1zM505,465h1v1h-1zM505,467h1v1h-1zM506,464h1v1h-1zM506,468h1v1h-1zM507,463h1v1h-1zM507,469h1v1h-1zM508,462h1v1h-1zM508,470h1v1h-1zM509,463h1v1h-1zM509,469h1v1h-1zM510,464h1v1h-1zM510,468h1v1h-1zM511,465h1v1h-1zM511,467h1v1h-1zM512,466h1v1h-1zM648,402h1v1h-1zM649,401h1v1h-1zM649,403h1v1h-1zM650,400h1v1h-1zM650,404h1v1h-1zM651,399h1v1h-1zM651,405h1v1h-1zM652,398h1v1h-1zM652,406h1v1h-1zM653,399h1v1h-1zM653,405h1v1h-1zM654,400h1v1h-1zM654,404h1v1h-1zM655,401h1v1h-1zM655,403h1v1h-1zM656,402h1v1h-1zM635,423h1v1h-1zM636,422h1v1h-1zM636,424h1v1h-1zM637,421h1v1h-1zM637,425h1v1h-1zM638,420h1v1h-1zM638,426h1v1h-1zM639,419h1v1h-1zM639,427h1v1h-1zM640,420h1v1h-1zM640,426h1v1h-1zM641,421h1v1h-1zM641,425h1v1h-1zM642,422h1v1h-1zM642,424h1v1h-1zM643,423h1v1h-1zM705,389h1v1h-1zM706,388h1v1h-1zM706,390h1v1h-1zM707,387h1v1h-1zM707,391h1v1h-1zM708,386h1v1h-1zM708,392h1v1h-1zM709,385h1v1h-1zM709,393h1v1h-1zM710,386h1v1h-1zM710,392h1v1h-1zM711,387h1v1h-1zM711,391h1v1h-1zM712,388h1v1h-1zM712,390h1v1h-1zM713,389h1v1h-1zM716,416h1v1h-1zM717,415h1v1h-1zM717,417h1v1h-1zM718,414h1v1h-1zM718,418h1v1h-1zM719,413h1v1h-1zM719,419h1v1h-1zM720,412h1v1h-1zM720,420h1v1h-1zM721,413h1v1h-1zM721,419h1v1h-1zM722,414h1v1h-1zM722,418h1v1h-1zM723,415h1v1h-1zM723,417h1v1h-1zM724,416h1v1h-1zM731,427h1v1h-1zM732,426h1v1h-1zM732,428h1v1h-1zM733,425h1v1h-1zM733,429h1v1h-1zM734,424h1v1h-1zM734,430h1v1h-1zM735,423h1v1h-1zM735,431h1v1h-1zM736,424h1v1h-1zM736,430h1v1h-1zM737,425h1v1h-1zM737,429h1v1h-1zM738,426h1v1h-1zM738,428h1v1h-1zM739,427h1v1h-1zM735,424h1v1h-1zM736,423h1v1h-1zM736,425h1v1h-1zM737,422h1v1h-1zM737,426h1v1h-1zM738,421h1v1h-1zM738,427h1v1h-1zM739,420h1v1h-1zM739,428h1v1h-1zM740,421h1v1h-1zM740,427h1v1h-1zM741,422h1v1h-1zM741,426h1v1h-1zM742,423h1v1h-1zM742,425h1v1h-1zM743,424h1v1h-1zM793,442h1v1h-1zM794,441h1v1h-1zM794,443h1v1h-1zM795,440h1v1h-1zM795,444h1v1h-1zM796,439h1v1h-1zM796,445h1v1h-1zM797,438h1v1h-1zM797,446h1v1h-1zM798,439h1v1h-1zM798,445h1v1h-1zM799,440h1v1h-1zM799,444h1v1h-1zM800,441h1v1h-1zM800,443h1v1h-1zM801,442h1v1h-1zM626,461h1v1h-1zM627,460h1v1h-1zM627,462h1v1h-1zM628,459h1v1h-1zM628,463h1v1h-1zM629,458h1v1h-1zM629,464h1v1h-1zM630,457h1v1h-1zM630,465h1v1h-1zM631,458h1v1h-1zM631,464h1v1h-1zM632,459h1v1h-1zM632,463h1v1h-1zM633,460h1v1h-1zM633,462h1v1h-1zM634,461h1v1h-1zM724,492h1v1h-1zM725,491h1v1h-1zM725,493h1v1h-1zM726,490h1v1h-1zM726,494h1v1h-1zM727,489h1v1h-1zM727,495h1v1h-1zM728,488h1v1h-1zM728,496h1v1h-1zM729,489h1v1h-1zM729,495h1v1h-1zM730,490h1v1h-1zM730,494h1v1h-1zM731,491h1v1h-1zM731,493h1v1h-1zM732,492h1v1h-1z" fill="#000"/>
<path d="M228,146h1v1h-1zM229,145h1v1h-1zM229,147h1v1h-1zM230,144h1v1h-1zM230,148h1v1h-1zM231,145h1v1h-1zM231,147h1v1h-1zM232,146h1v1h-1zM258,201h1v1h-1zM259,200h1v1h-1zM259,202h1v1h-1zM260,199h1v1h-1zM260,203h1v1h-1zM261,200h1v1h-1zM261,202h1v1h-1zM262,201h1v1h-1zM501,279h1v1h-1zM502,278h1v1h-1zM502,280h1v1h-1zM503,277h1v1h-1zM503,281h1v1h-1zM504,278h1v1h-1zM504,280h1v1h-1zM505,279h1v1h-1zM450,316h1v1h-1zM451,315h1v1h-1zM451,317h1v1h-1zM452,314h1v1h-1zM452,318h1v1h-1zM453,315h1v1h-1zM453,317h1v1h-1zM454,316h1v1h-1zM572,126h1v1h-1zM573,125h1v1h-1zM573,127h1v1h-1zM574,124h1v1h-1zM574,128h1v1h-1zM575,125h1v1h-1zM575,127h1v1h-1zM576,126h1v1h-1zM472,447h1v1h-1zM473,446h1v1h-1zM473,448h1v1h-1zM474,445h1v1h-1zM474,449h1v1h-1zM475,446h1v1h-1zM475,448h1v1h-1zM476,447h1v1h-1zM472,466h1v1h-1zM473,465h1v1h-1zM473,467h1v1h-1zM474,464h1v1h-1zM474,468h1v1h-1zM475,465h1v1h-1zM475,467h1v1h-1zM476,466h1v1h-1zM506,466h1v1h-1zM507,465h1v1h-1zM507,467h1v1h-1zM508,464h1v1h-1zM508,468h1v1h-1zM509,465h1v1h-1zM509,467h1v1h-1zM510,466h1v1h-1zM650,402h1v1h-1zM651,401h1v1h-1zM651,403h1v1h-1zM652,400h1v1h-1zM652,404h1v1h-1zM653,401h1v1h-1zM653,403h1v1h-1zM654,402h1v1h-1zM637,423h1v1h-1zM638,422h1v1h-1zM638,424h1v1h-1zM639,421h1v1h-1zM639,425h1v1h-1zM640,422h1v1h-1zM640,424h1v1h-1zM641,423h1v1h-1zM707,389h1v1h-1zM708,388h1v1h-1zM708,390h1v1h-1zM709,387h1v1h-1zM709,391h1v1h-1zM710,388h1v1h-1zM710,390h1v1h-1zM711,389h1v1h-1zM718,416h1v1h-1zM719,415h1v1h-1zM719,417h1v1h-1zM720,414h1v1h-1zM720,418h1v1h-1zM721,415h1v1h-1zM721,417h1v1h-1zM722,416h1v1h-1zM733,427h1v1h-1zM734,426h1v1h-1zM734,428h1v1h-1zM735,425h1v1h-1zM735,429h1v1h-1zM736,426h1v1h-1zM736,428h1v1h-1zM737,427h1v1h-1zM737,424h1v1h-1zM738,423h1v1h-1zM738,425h1v1h-1zM739,422h1v1h-1zM739,426h1v1h-1zM740,423h1v1h-1zM740,425h1v1h-1zM741,424h1v1h-1zM795,442h1v1h-1zM796,441h1v1h-1zM796,443h1v1h-1zM797,440h1v1h-1zM797,444h1v1h-1zM798,441h1v1h-1zM798,443h1v1h-1zM799,442h1v1h-1zM628,461h1v1h-1zM629,460h1v1h-1zM629,462h1v1h-1zM630,459h1v1h-1zM630,463h1v1h-1zM631,460h1v1h-1zM631,462h1v1h-1zM632,461h1v1h-1zM726,492h1v1h-1zM727,491h1v1h-1zM727,493h1v1h-1zM728,490h1v1h-1zM728,494h1v1h-1zM729,491h1v1h-1zM729,493h1v1h-1zM730,492h1v1h-1z" fill="#0000ff"/>
</g>
<g stroke="#fff" stroke-width="0.22" paint-order="normal"><text x="297" y="69.6" font-size="16" textLength="149.5" lengthAdjust="spacingAndGlyphs">VictoriaWeather.ca</text>
<rect x="457" y="63.5" width="11" height="1.1" fill="#000"/><rect x="470" y="63.5" width="11" height="1.1" fill="#000"/>
<text x="492" y="69.6" font-size="16" textLength="101.5" lengthAdjust="spacingAndGlyphs">Temperature</text></g>
<rect x="123" y="689" width="750" height="31" fill="#efefef"/>
<rect x="115.00" y="683" width="54.10" height="30" fill="#ffffff"/>
<rect x="168.50" y="683" width="54.10" height="30" fill="#ebebff"/>
<rect x="222.00" y="683" width="54.10" height="30" fill="#d8d8ff"/>
<rect x="275.50" y="683" width="54.10" height="30" fill="#c4c4ff"/>
<rect x="329.00" y="683" width="54.10" height="30" fill="#b1b1ff"/>
<rect x="382.50" y="683" width="54.10" height="30" fill="#9d9dff"/>
<rect x="436.00" y="683" width="54.10" height="30" fill="#8989ff"/>
<rect x="489.50" y="683" width="54.10" height="30" fill="#7676ff"/>
<rect x="543.00" y="683" width="54.10" height="30" fill="#6262ff"/>
<rect x="596.50" y="683" width="54.10" height="30" fill="#4e4eff"/>
<rect x="650.00" y="683" width="54.10" height="30" fill="#3b3bff"/>
<rect x="703.50" y="683" width="54.10" height="30" fill="#2727ff"/>
<rect x="757.00" y="683" width="54.10" height="30" fill="#1414ff"/>
<rect x="810.50" y="683" width="54.10" height="30" fill="#0000ff"/>
<rect x="115.5" y="683.5" width="749" height="30" fill="none" stroke="#000" stroke-width="1.3"/>
<line x1="115.5" y1="683" x2="115.5" y2="717.5" stroke="#000" stroke-width="1.3"/>
<text x="115.5" y="727" font-size="11" text-anchor="middle">11</text>
<line x1="222.5" y1="683" x2="222.5" y2="717.5" stroke="#000" stroke-width="1.3"/>
<text x="222.5" y="727" font-size="11" text-anchor="middle">12</text>
<line x1="329.5" y1="683" x2="329.5" y2="717.5" stroke="#000" stroke-width="1.3"/>
<text x="329.5" y="727" font-size="11" text-anchor="middle">13</text>
<line x1="436.5" y1="683" x2="436.5" y2="717.5" stroke="#000" stroke-width="1.3"/>
<text x="436.5" y="727" font-size="11" text-anchor="middle">14</text>
<line x1="543.5" y1="683" x2="543.5" y2="717.5" stroke="#000" stroke-width="1.3"/>
<text x="543.5" y="727" font-size="11" text-anchor="middle">15</text>
<line x1="650.5" y1="683" x2="650.5" y2="717.5" stroke="#000" stroke-width="1.3"/>
<text x="650.5" y="727" font-size="11" text-anchor="middle">16</text>
<line x1="757.5" y1="683" x2="757.5" y2="717.5" stroke="#000" stroke-width="1.3"/>
<text x="757.5" y="727" font-size="11" text-anchor="middle">17</text>
<line x1="864.5" y1="683" x2="864.5" y2="717.5" stroke="#000" stroke-width="1.3"/>
<text x="864.5" y="727" font-size="11" text-anchor="middle">18</text>
<text x="427" y="738.2" font-size="10.5" textLength="12" lengthAdjust="spacingAndGlyphs">°C</text>
<text x="449.3" y="738.2" font-size="10.5" textLength="103" lengthAdjust="spacingAndGlyphs">2026/04/21 00:03</text>
</svg></body></html>
